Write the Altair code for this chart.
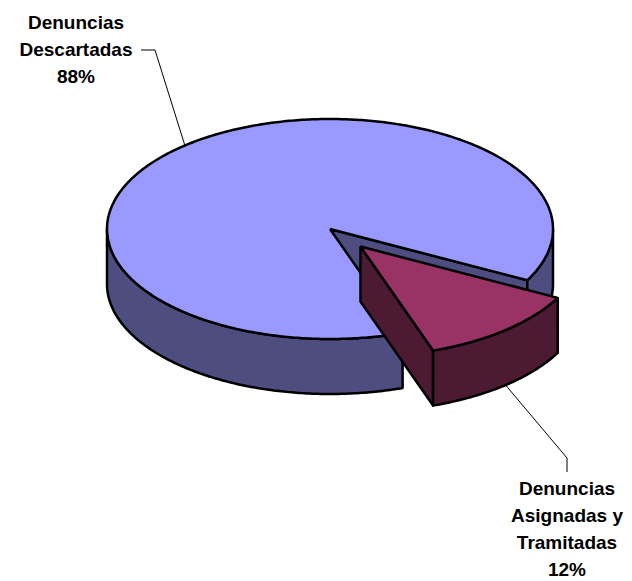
import altair as alt
import numpy as np
import pandas as pd

# ---- data ----
categories = ["Denuncias Descartadas", "Denuncias Asignadas y Tramitadas"]
label_lines = [["Denuncias", "Descartadas"], ["Denuncias", "Asignadas y", "Tramitadas"]]
values = [88, 12]
top_colors = ["#9999FF", "#993366"]
side_colors = ["#4D4D80", "#4D1A33"]
explode = [0.0, 0.21]

# ---- geometry / style constants (page pixels) ----
CX, CY, RX, RY, DEPTH = 330, 229, 223, 110, 55
FIRST_ANGLE = 71.0          # start angle of first slice (clockwise from 3 o'clock)
LABEL_POS = [(76, 28.5), (567, 495)]
ELBOWS = [[(141, 50), (155, 50)], [(567, 472), (567, 458)]]
W, H = 616, 572

total = sum(values)
spans = [v / total * 360 for v in values]
starts = [FIRST_ANGLE + sum(spans[:i]) for i in range(len(values))]


def pt(t, ox, oy, dz=0.0):
    r = np.radians(t)
    return CX + ox + RX * np.cos(r), CY + oy + RY * np.sin(r) + dz


polys = []   # (color, [(x,y),...])
anchors = []
order = sorted(range(len(values)),
               key=lambda k: np.sin(np.radians(starts[k] + spans[k] / 2)))
for k in range(len(values)):
    mid = starts[k] + spans[k] / 2
    ox = explode[k] * RX * np.cos(np.radians(mid))
    oy = explode[k] * RY * np.sin(np.radians(mid))
    anchors.append((k, ox, oy, mid))

for k in order:
    s, e = starts[k], starts[k] + spans[k]
    _, ox, oy, mid = anchors[k]
    c = (CX + ox, CY + oy)
    faces = []
    # radial faces
    for t, vis in [(s, np.cos(np.radians(s)) < 0), (e, np.cos(np.radians(e)) > 0)]:
        if vis:
            p1 = pt(t, ox, oy)
            p2 = pt(t, ox, oy, DEPTH)
            faces.append([c, p1, p2, (c[0], c[1] + DEPTH), c])
    # outer sides
    for lo, hi in [(0, 180), (360, 540)]:
        a, b = max(s, lo), min(e, hi)
        if b > a:
            ts = np.linspace(a, b, max(3, int((b - a) * 1.5)))
            top = [pt(t, ox, oy) for t in ts]
            bot = [pt(t, ox, oy, DEPTH) for t in ts[::-1]]
            faces.append(top + bot + [top[0]])
    for f in faces:
        polys.append((side_colors[k], f))
    ts = np.linspace(s, e, max(3, int((e - s) * 1.5)))
    arc = [pt(t, ox, oy) for t in ts]
    polys.append((top_colors[k], [c] + arc + [c]))

rows = []
for pid, (col, pts) in enumerate(polys):
    for i, (x, y) in enumerate(pts):
        rows.append({"poly": pid, "i": i, "x": float(x), "y": float(y)})
df = pd.DataFrame(rows)

xs = alt.Scale(domain=[8, 8 + W], nice=False, zero=False)
ys = alt.Scale(domain=[8, 8 + H], nice=False, zero=False, reverse=True)

layers = []
for pid, (col, pts) in enumerate(polys):
    layers.append(
        alt.Chart(df).transform_filter(alt.datum.poly == pid)
        .mark_line(fill=col, stroke="black", strokeWidth=2.5, strokeJoin="round",
                   interpolate="linear")
        .encode(x=alt.X("x:Q", scale=xs, axis=None),
                y=alt.Y("y:Q", scale=ys, axis=None),
                order="i:Q")
    )

# leader lines: from label elbow to pie
lrows = []
for k in range(len(values)):
    _, ox, oy, mid = anchors[k]
    r = np.radians(mid)
    if np.sin(r) < 0:
        ax, ay = pt(mid, ox, oy)
    else:
        ax, ay = pt(mid, ox, oy, DEPTH)
    pts = ELBOWS[k] + [(ax, ay)]
    for i, (x, y) in enumerate(pts):
        lrows.append({"leader": k, "i": i, "x": float(x), "y": float(y)})
ldf = pd.DataFrame(lrows)
leaders = alt.Chart(ldf).mark_line(color="black", strokeWidth=1).encode(
    x=alt.X("x:Q", scale=xs, axis=None),
    y=alt.Y("y:Q", scale=ys, axis=None),
    detail="leader:N", order="i:Q")

tdf = pd.DataFrame({
    "label": ["\n".join(label_lines[k] + [f"{round(values[k] / total * 100)}%"])
              for k in range(len(values))],
    "x": [p[0] for p in LABEL_POS],
    "y": [p[1] for p in LABEL_POS],
})
texts = alt.Chart(tdf).mark_text(
    font="Liberation Sans", fontWeight="bold", fontSize=19, lineHeight=27,
    lineBreak="\n", align="center", baseline="alphabetic", color="black"
).encode(x=alt.X("x:Q", scale=xs, axis=None),
         y=alt.Y("y:Q", scale=ys, axis=None),
         text="label:N")

chart = alt.layer(*layers, leaders, texts).properties(
    width=W, height=H, autosize=alt.AutoSizeParams(type="none"), padding=0
).configure_view(stroke=None)

chart.save("out.html", embed_options={"renderer": "svg", "actions": False})
